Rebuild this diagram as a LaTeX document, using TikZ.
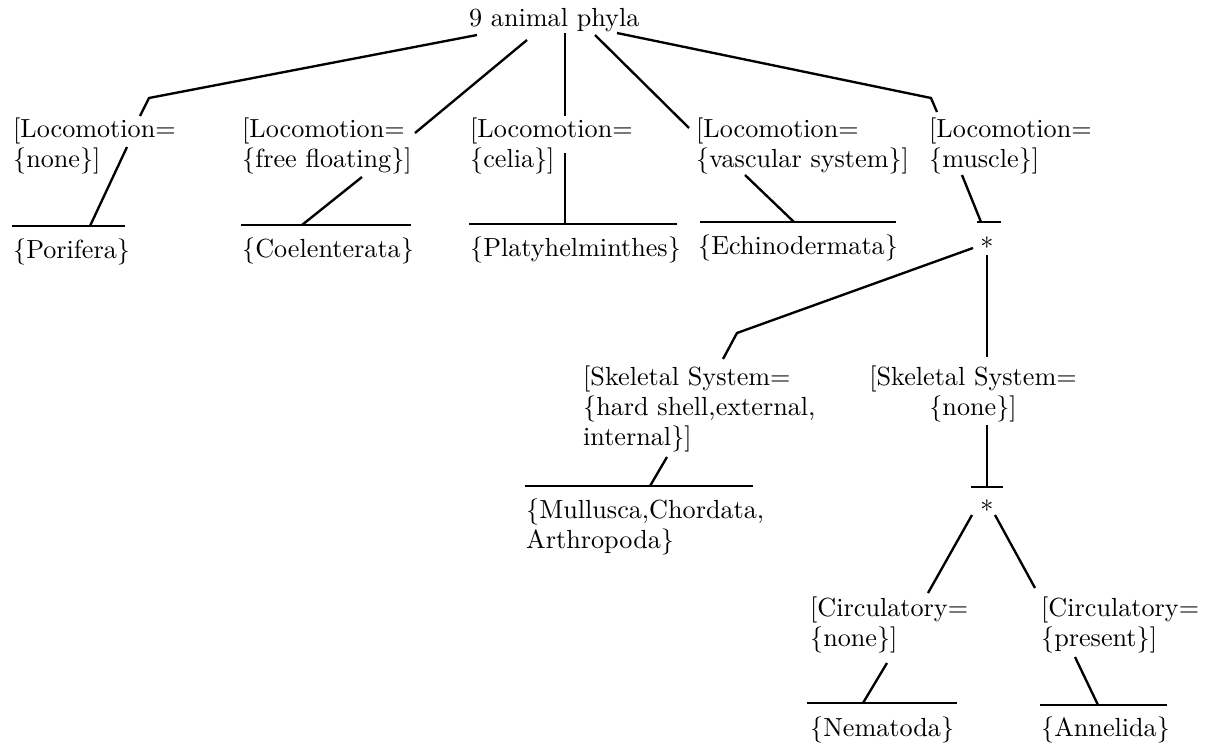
\documentclass[tikz,border=0pt]{standalone}
\usepackage{tikz}

\begin{document}
\begin{tikzpicture}[x=0.382pt,y=-0.382pt,line width=0.9pt,
  lab/.style={anchor=north west,inner sep=0pt,align=left,font=\fontsize{10}{11.4}\selectfont},
  star/.style={anchor=north,inner sep=0pt}]

\useasboundingbox (0,0) rectangle (1207,744);

\node [lab,anchor=base west] (root) at (468,26) {9 animal phyla};

\node [lab] (none)  at (12,117)  {[Locomotion=\\\{none\}]};
\node [lab] (float) at (241,117) {[Locomotion=\\\{free floating\}]};
\node [lab] (celia) at (469,117) {[Locomotion=\\\{celia\}]};
\node [lab] (vasc)  at (695,117) {[Locomotion=\\\{vascular system\}]};
\node [lab] (musc)  at (928,117) {[Locomotion=\\\{muscle\}]};

\node [lab] (pori)  at (12,238)  {\{Porifera\}};
\node [lab] (coel)  at (241,237) {\{Coelenterata\}};
\node [lab] (platy) at (469,236) {\{Platyhelminthes\}};
\node [lab] (echi)  at (697,234) {\{Echinodermata\}};
\node [star] (star1) at (987,236) {*};

\node [lab] (skhard) at (582,365) {[Skeletal System=\\\{hard shell,external,\\internal\}]};
\node [lab,align=center,anchor=north] (sknone) at (973,365) {[Skeletal System=\\\{none\}]};

\node [lab] (mull) at (525,498) {\{Mullusca,Chordata,\\Arthropoda\}};
\node [star] (star2) at (987,499) {*};

\node [lab] (circnone) at (809,596)  {[Circulatory=\\\{none\}]};
\node [lab] (circpres) at (1040,596) {[Circulatory=\\\{present\}]};

\node [lab] (nema) at (809,716)  {\{Nematoda\}};
\node [lab] (anne) at (1040,716) {\{Annelida\}};

\coordinate (ra) at (477,35);
\coordinate (rb) at (527,40);
\coordinate (rc) at (565,33);
\coordinate (rd) at (595,35);
\coordinate (re) at (617,33);
\coordinate (ka) at (149,98);
\coordinate (ke) at (931,98);
\coordinate (none-in)  at (140,116);
\coordinate (float-in) at (415,133);
\coordinate (celia-in) at (565,116);
\coordinate (vasc-in)  at (689,128);
\coordinate (musc-in)  at (937,112);

\draw (ra) -- (ka) -- (none-in);
\draw (rb) -- (float-in);
\draw (rc) -- (celia-in);
\draw (rd) -- (vasc-in);
\draw (re) -- (ke) -- (musc-in);

\coordinate (none-out)  at (127,147);
\coordinate (float-out) at (362,177);
\coordinate (celia-out) at (565,153);
\coordinate (vasc-out)  at (745,175);
\coordinate (musc-out)  at (962,175);
\coordinate (pori-top)  at (90,226);
\coordinate (coel-top)  at (302,225);
\coordinate (platy-top) at (565,224);
\coordinate (echi-top)  at (794,222);
\coordinate (star1-top) at (981,222);

\draw (none-out) -- (pori-top);
\draw (float-out) -- (coel-top);
\draw (celia-out) -- (platy-top);
\draw (vasc-out) -- (echi-top);
\draw (musc-out) -- (star1-top);

\draw (12,226) coordinate (pori-l) -- (125,226) coordinate (pori-r);
\draw (241,225) coordinate (coel-l) -- (411,225) coordinate (coel-r);
\draw (469,224) coordinate (platy-l) -- (677,224) coordinate (platy-r);
\draw (700,222) coordinate (echi-l) -- (896,222) coordinate (echi-r);
\draw (977,222) coordinate (star1-l) -- (1001,222) coordinate (star1-r);

\coordinate (s1a) at (973,248);
\coordinate (s1b) at (987,255);
\coordinate (k-hard) at (737,333);
\coordinate (hard-in) at (723,359);
\coordinate (snone-in) at (987,357);

\draw (s1a) -- (k-hard) -- (hard-in);
\draw (s1b) -- (snone-in);

\coordinate (hard-out) at (667,457);
\coordinate (snone-out) at (987,425);
\coordinate (mull-top) at (650,486);
\coordinate (star2-top) at (987,487);

\draw (hard-out) -- (mull-top);
\draw (snone-out) -- (star2-top);

\draw (525,486) coordinate (mull-l) -- (753,486) coordinate (mull-r);
\draw (971,487) coordinate (star2-l) -- (1003,487) coordinate (star2-r);

\coordinate (s2a) at (972,515);
\coordinate (s2b) at (995,515);
\coordinate (cnone-in) at (928,593);
\coordinate (cpres-in) at (1035,588);

\draw (s2a) -- (cnone-in);
\draw (s2b) -- (cpres-in);

\coordinate (cnone-out) at (887,663);
\coordinate (cpres-out) at (1075,657);
\coordinate (nema-top) at (863,703);
\coordinate (anne-top) at (1098,705);

\draw (cnone-out) -- (nema-top);
\draw (cpres-out) -- (anne-top);

\draw (807,703) coordinate (nema-l) -- (957,703) coordinate (nema-r);
\draw (1040,705) coordinate (anne-l) -- (1167,705) coordinate (anne-r);

\end{tikzpicture}
\end{document}
